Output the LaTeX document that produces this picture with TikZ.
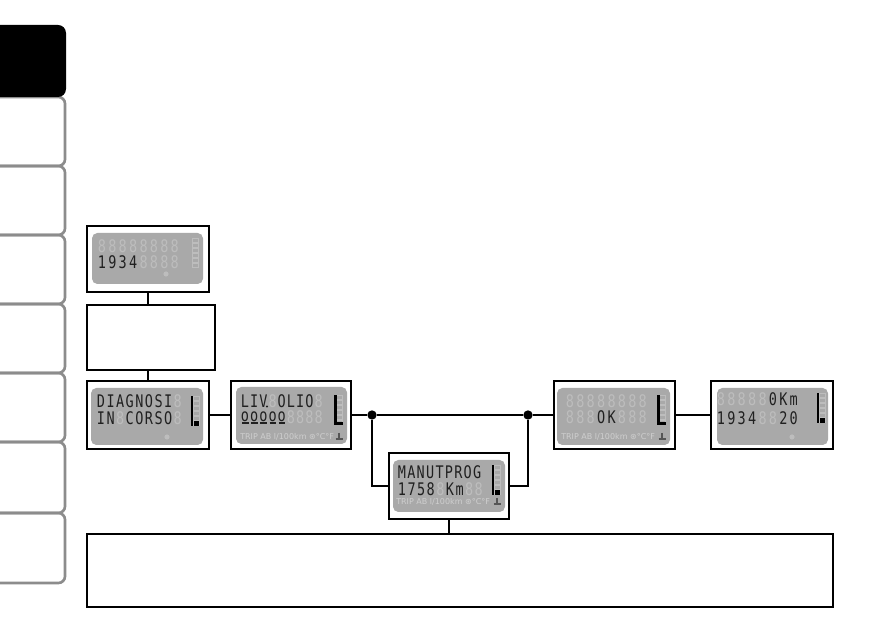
\documentclass[tikz,border=0pt]{standalone}
\usepackage{fontspec}
\newfontfamily\lcdfont[FakeStretch=0.78]{DejaVu Sans Mono}
\newfontfamily\symfont{DejaVu Sans}
\definecolor{lcdbg}{HTML}{A9A9A9}
\definecolor{lcdghost}{HTML}{BDBDBD}
\definecolor{lcdtxt}{HTML}{202020}
\definecolor{tabgray}{HTML}{8C8C8C}
\definecolor{triptxt}{HTML}{CFCFCF}
\definecolor{iconcol}{HTML}{555555}
\tikzset{
  frame/.style 2 args={draw=black, line width=1pt, minimum width=#1*0.75pt, minimum height=#2*0.75pt, inner sep=0pt, outer sep=0pt, anchor=north west},
  link/.style={line width=1pt},
  branch/.style={line width=1.5pt},
  junction/.style={circle, fill=black, inner sep=0pt, minimum size=7pt},
  ghostch/.style={font=\lcdfont\fontsize{13}{13}\selectfont, text=lcdghost, inner sep=0pt, text height=9.2pt, text depth=0pt},
  lcdch/.style={font=\lcdfont\fontsize{13}{13}\selectfont, text=lcdtxt, inner sep=0pt, text height=9.2pt, text depth=0pt},
  trip/.style={font=\symfont\fontsize{6}{6}\selectfont, text=triptxt, inner sep=0pt, anchor=west},
  tabbox/.style={draw=tabgray, line width=2pt, rounded corners=5pt},
}
% panel: x y w h
\newcommand\lcdpanel[4]{\fill[lcdbg, rounded corners=4pt] (#1,#2) rectangle ++(#3,#4);}
% ghost cells: name x0 y pitch list-of-indices
\newcommand\ghostcells[5]{\foreach \k in {#5} {\node[ghostch] (#1-g\k) at ({#2+\k*#4}, #3) {8};}}
% chars: name x0 y pitch list
\newcommand\lcdchars[5]{\foreach \p/\c in {#5} {\node[lcdch] (#1-c\p) at ({#2+\p*#4}, #3) {\c};}}
% bar graph: x y type(0 none,1 seg,2 L)
\newcommand\bargraph[3]{%
  \foreach \k in {0,...,5} {\draw[lcdghost, line width=0.7pt] (#1+2.5,#2+\k*5) rectangle ++(5.5,4);}
  \ifcase#3\or
    \fill[black] (#1,#2) rectangle (#1+2.2,#2+30);
    \fill[black] (#1+2.5,#2+25) rectangle (#1+8,#2+30);
  \or
    \fill[black] (#1,#2) rectangle (#1+2.5,#2+30);
    \fill[black] (#1,#2+27.5) rectangle (#1+8.5,#2+30);
  \fi}
\newcommand\lcddot[2]{\fill[lcdghost] (#1,#2) circle[radius=2.6];}
\newcommand\tempicon[2]{\draw[iconcol, line width=0.8pt] (#1,#2-4) -- (#1,#2+2) (#1-3.5,#2+2) -- (#1+3.5,#2+2);}
\begin{document}
\begin{tikzpicture}[x=0.75pt, y=-0.75pt]
\useasboundingbox (0,0) rectangle (893,630);
% side tabs
\foreach \t/\b in {97/166,166/235,235/304,304/373,373/442,442/513,513/583}
  {\draw[tabbox] (-10,\t) rectangle (65,\b);}
\fill[black, rounded corners=6pt] (-10,25) rectangle (66,97);

% frames
\node[frame={122}{66}] (b1) at (87,226) {};
\node[frame={128}{65}] (b2) at (87,305) {};
\node[frame={122}{68}] (b3) at (87,381) {};
\node[frame={120}{68}] (b4) at (231,381) {};
\node[frame={120}{66}] (b5) at (389,453) {};
\node[frame={121}{68}] (b6) at (554,381) {};
\node[frame={122}{68}] (b7) at (711,381) {};
\node[frame={746}{73}] (b8) at (87,534) {};

% display 1
\lcdpanel{92}{233}{111}{51}
\ghostcells{d1a}{102}{246}{10.4}{0,...,7}
\ghostcells{d1b}{102}{262}{10.4}{4,...,7}
\lcdchars{d1b}{102}{262}{10.4}{0/1,1/9,2/3,3/4}
\bargraph{190}{238}{0}
\lcddot{166}{274}

% display 3
\lcdpanel{91}{388}{112}{57}
\ghostcells{d3a}{101}{401}{9.6}{8}
\ghostcells{d3b}{101}{418}{9.6}{2,8}
\lcdchars{d3a}{101}{401}{9.6}{0/D,1/I,2/A,3/G,4/N,5/O,6/S,7/I}
\lcdchars{d3b}{101}{418}{9.6}{0/I,1/N,3/C,4/O,5/R,6/S,7/O}
\bargraph{191}{396}{1}
\lcddot{167}{437}

% display 4
\lcdpanel{236}{387}{111}{57}
\ghostcells{d4a}{245}{401}{9.2}{3,8}
\ghostcells{d4b}{245}{417}{9.2}{5,...,8}
\lcdchars{d4a}{245}{401}{9.2}{0/L,1/I,2/V,4/O,5/L,6/I,7/O}
\fill[lcdtxt] (267,406.5) circle[radius=1.1];
\lcdchars{d4b}{245}{415}{9.2}{0/o,1/o,2/o,3/o,4/o}
\foreach \k in {0,...,4} {\draw[lcdtxt, line width=1.2pt] ({242+\k*9.2},423) -- ++(6.5,0);}
\node[trip] (d4t) at (240,437) {TRIP AB l/100km ⊛°C°F};
\tempicon{339}{437}
\bargraph{334}{395}{2}

% display 5
\lcdpanel{393}{460}{112}{52}
\ghostcells{d5b}{402}{489}{9.6}{4,7,8}
\lcdchars{d5a}{402}{472}{9.4}{0/M,1/A,2/N,3/U,4/T,5/P,6/R,7/O,8/G}
\lcdchars{d5b}{402}{489}{9.6}{0/1,1/7,2/5,3/8,5/K,6/m}
\node[trip] (d5t) at (396,502) {TRIP AB l/100km ⊛°C°F};
\tempicon{497}{502}
\bargraph{492}{465}{1}

% display 6
\lcdpanel{557}{388}{113}{57}
\ghostcells{d6a}{570}{401}{10.4}{0,...,7}
\ghostcells{d6b}{570}{417}{10.4}{0,1,2,5,6,7}
\lcdchars{d6b}{570}{417}{10.4}{3/O,4/K}
\node[trip] (d6t) at (561,437) {TRIP AB l/100km ⊛°C°F};
\tempicon{662}{437}
\bargraph{657}{395}{2}

% display 7
\lcdpanel{717}{388}{111}{57}
\ghostcells{d7a}{721}{399}{10.4}{0,...,4}
\ghostcells{d7b}{721}{418}{10.4}{4,5}
\lcdchars{d7a}{721}{399}{10.4}{5/0,6/K,7/m}
\lcdchars{d7b}{721}{418}{10.4}{0/1,1/9,2/3,3/4,6/2,7/0}
\bargraph{817}{393}{1}
\lcddot{792}{437}

% junctions
\node[junction] (j1) at (372,415) {};
\node[junction] (j2) at (528,415) {};

% connectors
\draw[link] (b1.south) -- (b1.south |- b2.north);
\draw[link] (b3.north) -- (b3.north |- b2.south);
\draw[link] (b3.east) -- (b4.west);
\draw[link] (b4.east) -- (j1) -- (j2) -- (b6.west);
\draw[link] (b6.east) -- (b7.west);
\draw[branch] (j1) |- (b5.west);
\draw[branch] (j2) |- (b5.east);
\draw[link] (b5.south) -- (b5.south |- b8.north);
\end{tikzpicture}
\end{document}
